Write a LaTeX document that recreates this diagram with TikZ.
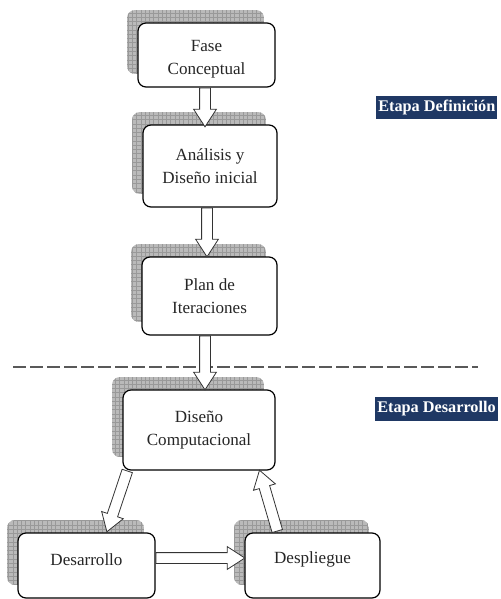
\documentclass[tikz,border=0pt]{standalone}
\usepackage{fontspec}
\setmainfont{Liberation Serif}
\usetikzlibrary{shapes.arrows,calc}
\definecolor{navy}{HTML}{1F3864}
\definecolor{shadowgray}{HTML}{BABABA}
\definecolor{gridgray}{HTML}{999999}

% shadowed rounded box: [text shift], name, x, y, width (px), height (px), text
\newcommand\drawstage[7][0]{%
  \begin{scope}
    \clip[rounded corners=6pt] ({#3-11-#5/2},{#4-13-#6/2}) rectangle ++(#5,#6);
    \fill[shadowgray] ({#3-11-#5/2},{#4-13-#6/2}) rectangle ++(#5,#6);
    \draw[gridgray, line width=0.3pt, step=3.2pt] ({#3-11-#5/2},{#4-13-#6/2}) grid ++(#5,#6);
  \end{scope}
  \node[stagebox, minimum width=#5*0.75pt, minimum height=#6*0.75pt] (#2) at (#3,#4) {};
  \node[stagetext] (#2-text) at ($(#2.center)+(0,#1)$) {#7};
}

% hollow block arrow from one point to another
\newcommand\hollowarrow[2]{%
  \path let \p1=(#1), \p2=(#2), \n1={veclen(\x2-\x1,\y2-\y1)} in
    (\p1) -- node[hollow, pos=0, anchor=tail, minimum height=\n1] {} (\p2);
}

\begin{document}
\begin{tikzpicture}[x=0.75pt,y=-0.75pt,
  stagebox/.style={draw=black, line width=0.9pt, fill=white, rounded corners=6pt,
    inner sep=0pt},
  stagetext/.style={align=center, inner sep=0pt, text=black!85,
    font=\fontsize{12.8}{17.5}\selectfont},
  hollow/.style={single arrow, draw=black!80, fill=white, line width=0.6pt,
    inner sep=3.75pt, minimum width=0pt, single arrow head extend=4.5pt,
    single arrow tip angle=66, sloped, allow upside down},
  phase/.style={fill=navy, text=white, anchor=west, inner xsep=1.5pt,
    minimum height=15.75pt, font=\fontsize{12.2}{14}\bfseries\selectfont},
  dashline/.style={draw=black!65, line width=2.2pt, dash pattern=on 9.75pt off 3pt}
]
\useasboundingbox (0,0) rectangle (500,599);

% stage boxes
\drawstage[4]{fase}{206.5}{55}{137}{64}{Fase\\Conceptual}
\drawstage{analisis}{210}{166}{134}{82}{Análisis y\\Diseño inicial}
\drawstage{plan}{209.5}{296}{135}{78}{Plan de\\Iteraciones}
\drawstage{diseno}{199}{430}{152}{80}{Diseño\\Computacional}
\drawstage[-6]{desarrollo}{86.5}{565.5}{137}{65}{Desarrollo}
\drawstage[-6]{despliegue}{312.5}{565.5}{135}{65}{Despliegue}

% stage separator
\coordinate (sepL) at (13,367);
\coordinate (sepR) at (478,367);
\draw[dashline] (sepL) -- (sepR);

% stage labels
\node[phase] (defstage) at (376,107.5) {Etapa Definición};
\node[phase] (devstage) at (375,409) {Etapa Desarrollo};

% flow arrows
\hollowarrow{$(fase.south)+(-1.5,0)$}{$(fase.south |- analisis.north)+(-1.5,2)$}
\hollowarrow{$(analisis.south)+(-3,0)$}{$(analisis.south |- plan.north)+(-3,0)$}
\hollowarrow{$(plan.south)+(-4.5,0)$}{$(plan.south |- diseno.north)+(-4.5,0)$}
\hollowarrow{$(diseno.south west)+(5,0)$}{$(desarrollo.north)+(20.5,-1)$}
\hollowarrow{$(despliegue.north west)+(33,-1)$}{$(diseno.south east)+(-16,0)$}
\hollowarrow{$(desarrollo.east)+(0,-7.5)$}{$(despliegue.west)+(0,-7.5)$}
\end{tikzpicture}
\end{document}
